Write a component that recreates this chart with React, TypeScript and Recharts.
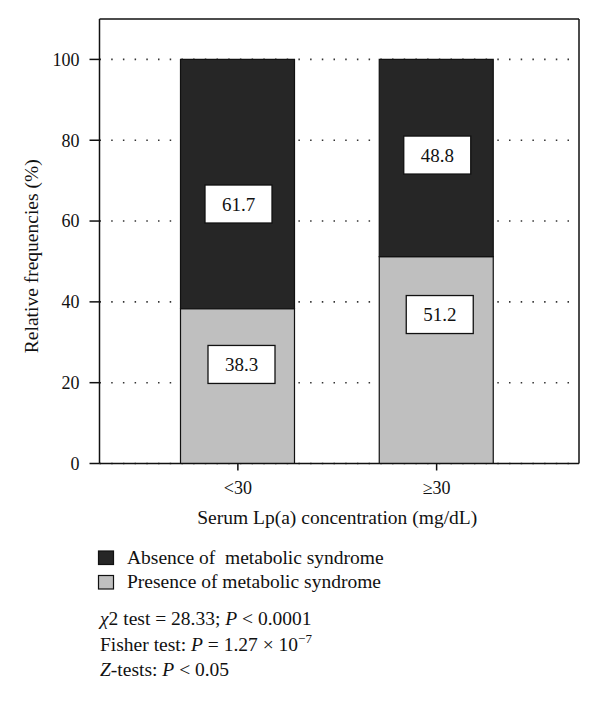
import React from "react";
import {
  BarChart,
  Bar,
  XAxis,
  YAxis,
  CartesianGrid,
  LabelList,
  Label,
} from "recharts";

const categories = ["<30", "≥30"];
const absence = [61.7, 48.8];
const presence = [38.3, 51.2];
const yTicks = [0, 20, 40, 60, 80, 100];

const seriesNames = {
  absence: "Absence of  metabolic syndrome",
  presence: "Presence of metabolic syndrome",
};

const data = categories.map((cat, i) => ({
  cat,
  absence: absence[i],
  presence: presence[i],
}));

const FONT = "'Liberation Serif', 'Times New Roman', serif";
const DARK = "#262626";
const LIGHT = "#bfbfbf";

// where the white value boxes sit inside each segment (fraction of segment height from its top)
const boxPlace: Record<string, { dx: number; f: number }[]> = {
  absence: [
    { dx: 1, f: 0.58 },
    { dx: 1, f: 0.485 },
  ],
  presence: [
    { dx: 4, f: 0.36 },
    { dx: 3.5, f: 0.28 },
  ],
};

function makeBox(key: string, values: number[]) {
  return (props: any) => {
    const vb = props.viewBox || props;
    const x = Number(props.x ?? vb.x);
    const y = Number(props.y ?? vb.y);
    const w = Number(props.width ?? vb.width);
    const h = Number(props.height ?? vb.height);
    let idx = props.index;
    if (idx == null) idx = values.indexOf(Number(props.value));
    const p = boxPlace[key][idx] || { dx: 0, f: 0.5 };
    const cx = x + w / 2 + p.dx;
    const cy = y + h * p.f;
    const bw = 67;
    const bh = 38;
    return (
      <g key={`${key}-${idx}`}>
        <rect
          x={cx - bw / 2}
          y={cy - bh / 2}
          width={bw}
          height={bh}
          fill="#fff"
          stroke="#111"
          strokeWidth={1.3}
        />
        <text
          x={cx}
          y={cy + 6.5}
          textAnchor="middle"
          fontFamily={FONT}
          fontSize={19}
          fill="#111"
        >
          {Number(props.value).toFixed(1)}
        </text>
      </g>
    );
  };
}

export default function App() {
  return (
    <div style={{ position: "absolute", left: 0, top: 0, width: 600, height: 704, background: "#fff" }}>
      <BarChart
        width={600}
        height={540}
        data={data}
        margin={{ top: 18, right: 20, bottom: 0, left: 0 }}
        barSize={114}
      >
        <CartesianGrid
          vertical={false}
          stroke="#333"
          strokeWidth={1.6}
          strokeDasharray="1.5 10.2"
          horizontalValues={yTicks}
        />
        <XAxis
          dataKey="cat"
          height={76.5}
          padding={{ left: 39, right: 43 }}
          tickSize={7}
          tickMargin={11}
          axisLine={{ stroke: "#111", strokeWidth: 1.5 }}
          tickLine={{ stroke: "#111", strokeWidth: 1.5 }}
          tick={{ fontFamily: FONT, fontSize: 18, fill: "#111" }}
        >
          <Label
            content={({ viewBox }: any) => (
              <text
                x={viewBox.x + viewBox.width / 2 - 2}
                y={523.5}
                textAnchor="middle"
                fontFamily={FONT}
                fontSize={19.5}
                fill="#111"
              >
                Serum Lp(a) concentration (mg/dL)
              </text>
            )}
          />
        </XAxis>
        <XAxis
          xAxisId="top"
          dataKey="cat"
          orientation="top"
          height={1}
          tick={false}
          tickLine={false}
          axisLine={{ stroke: "#111", strokeWidth: 1.5 }}
        />
        <YAxis
          width={99.5}
          domain={[0, 110]}
          ticks={yTicks}
          tickSize={10}
          tickMargin={10}
          axisLine={{ stroke: "#111", strokeWidth: 1.5 }}
          tickLine={{ stroke: "#111", strokeWidth: 1.5 }}
          tick={{ fontFamily: FONT, fontSize: 18, fill: "#111" }}
        >
          <Label
            content={({ viewBox }: any) => (
              <text
                x={38}
                y={viewBox.y + viewBox.height / 2 + 15}
                transform={`rotate(-90, 38, ${viewBox.y + viewBox.height / 2 + 15})`}
                textAnchor="middle"
                fontFamily={FONT}
                fontSize={19.5}
                fill="#111"
              >
                Relative frequencies (%)
              </text>
            )}
          />
        </YAxis>
        <YAxis
          yAxisId="right"
          orientation="right"
          width={1}
          domain={[0, 110]}
          tick={false}
          tickLine={false}
          axisLine={{ stroke: "#111", strokeWidth: 1.5 }}
        />
        <Bar
          dataKey="presence"
          stackId="a"
          fill={LIGHT}
          stroke="#111"
          strokeWidth={1.2}
          isAnimationActive={false}
        >
          <LabelList dataKey="presence" content={makeBox("presence", presence)} />
        </Bar>
        <Bar
          dataKey="absence"
          stackId="a"
          fill={DARK}
          stroke="#111"
          strokeWidth={1.2}
          isAnimationActive={false}
        >
          <LabelList dataKey="absence" content={makeBox("absence", absence)} />
        </Bar>
      </BarChart>
      <svg
        width={600}
        height={164}
        style={{ position: "absolute", left: 0, top: 540 }}
        fontFamily={FONT}
        fontSize={19.5}
        fill="#111"
      >
        <rect x={98.5} y={11} width={15} height={13.5} fill={DARK} stroke="#111" strokeWidth={1.2} />
        <text x={127} y={23.5} xmlSpace="preserve">{seriesNames.absence}</text>
        <rect x={98.5} y={35.5} width={15} height={13.5} fill={LIGHT} stroke="#111" strokeWidth={1.2} />
        <text x={127} y={47.5}>{seriesNames.presence}</text>
        <text x={100} y={85} xmlSpace="preserve">
          <tspan fontStyle="italic">χ</tspan>2 test = 28.33; <tspan fontStyle="italic">P</tspan> &lt; 0.0001
        </text>
        <text x={100} y={111}>
          Fisher test: <tspan fontStyle="italic">P</tspan> = 1.27 × 10
          <tspan dy={-8} fontSize={13}>−7</tspan>
        </text>
        <text x={100} y={136}>
          <tspan fontStyle="italic">Z</tspan>-tests: <tspan fontStyle="italic">P</tspan> &lt; 0.05
        </text>
      </svg>
    </div>
  );
}
